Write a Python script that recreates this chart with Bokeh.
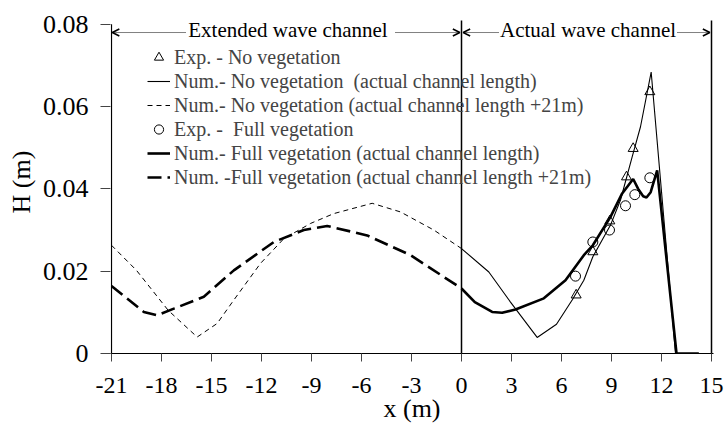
from bokeh.plotting import figure
from bokeh.models import (Range1d, FixedTicker, CustomJSTickFormatter, Legend, LegendItem,
                          Arrow, OpenHead, Label)
from bokeh.embed import file_html
from bokeh.resources import INLINE

FONT = "Liberation Serif"

# Measured wave heights (m) along the channel
exp_noveg_x = [6.88, 7.88, 8.9, 9.9, 10.3, 11.3]
exp_noveg_h = [0.0142, 0.0247, 0.0322, 0.0429, 0.0498, 0.0636]
exp_fullveg_x = [6.84, 7.88, 8.88, 9.84, 10.4, 11.3]
exp_fullveg_h = [0.0188, 0.0271, 0.0300, 0.0359, 0.0386, 0.0427]

# Numerical results, actual channel length
num_noveg_x = [0, 1.64, 2.94, 4.54, 5.7, 6.64, 7.34, 7.88, 8.94, 9.54, 10.24, 10.74, 11.38, 12.84, 14.24]
num_noveg_h = [0.0255, 0.0198, 0.0125, 0.0039, 0.0071, 0.0130, 0.0178, 0.0235, 0.0312, 0.0373, 0.0478, 0.0551, 0.0684, 0.0, 0.0]
num_fullveg_x = [0, 0.8, 1.84, 2.44, 3.24, 4.94, 6.24, 7.34, 7.88, 8.94, 9.64, 10.3, 10.6, 10.9, 11.1, 11.35, 11.74, 12.9, 14.24]
num_fullveg_h = [0.0158, 0.0125, 0.0101, 0.0099, 0.0107, 0.0134, 0.0178, 0.0239, 0.0263, 0.0332, 0.0389, 0.0424, 0.0400, 0.0382, 0.0379, 0.0392, 0.0445, 0.0, 0.0]

# Numerical results, channel extended by 21 m
ext_noveg_x = [-21, -19.5, -17.6, -15.86, -14.66, -13.66, -12.06, -10.66, -9.06, -7.66, -5.36, -3.66, -1.66, 0]
ext_noveg_h = [0.0263, 0.0202, 0.0105, 0.0040, 0.0073, 0.0130, 0.0219, 0.0279, 0.0316, 0.0340, 0.0365, 0.0344, 0.0300, 0.0255]
ext_fullveg_x = [-21, -19.06, -18.26, -17.26, -15.46, -13.66, -11.26, -9.46, -8.06, -5.66, -3.06, 0]
ext_fullveg_h = [0.0164, 0.0101, 0.0093, 0.0109, 0.0138, 0.0202, 0.0271, 0.0300, 0.0310, 0.0287, 0.0239, 0.0158]

x_ticks = [-21, -18, -15, -12, -9, -6, -3, 0, 3, 6, 9, 12, 15]
y_ticks = [0, 0.02, 0.04, 0.06, 0.08]

p = figure(width=724, height=430, output_backend="svg", toolbar_location=None,
           x_range=Range1d(-21.06, 15.12), y_range=Range1d(0, 0.08335),
           min_border_left=110, min_border_right=11, min_border_top=10, min_border_bottom=77)
p.outline_line_color = None
p.xgrid.grid_line_color = None
p.ygrid.grid_line_color = None
p.background_fill_color = "white"

# axes
p.xaxis.ticker = FixedTicker(ticks=x_ticks)
p.yaxis.ticker = FixedTicker(ticks=y_ticks)
p.xaxis.formatter = CustomJSTickFormatter(code="return tick.toString();")
p.yaxis.formatter = CustomJSTickFormatter(code="return tick == 0 ? '0' : tick.toFixed(2);")
for ax in (p.xaxis, p.yaxis):
    ax.minor_tick_line_color = None
    ax.major_tick_in = 0
    ax.major_label_text_font = FONT
    ax.major_label_text_color = "black"
    ax.major_tick_line_color = "#444444"
    ax.axis_line_color = "black"
    ax.axis_label_text_font = FONT
    ax.axis_label_text_font_size = "26px"
    ax.axis_label_text_font_style = "normal"
    ax.axis_label_text_color = "black"
p.xaxis.axis_label = "x (m)"
p.yaxis.axis_label = "H (m)"
p.xaxis.major_tick_out = 8
p.xaxis.major_label_standoff = 16
p.xaxis.major_label_text_font_size = "24px"
p.xaxis.axis_label_standoff = -2
p.yaxis.major_tick_out = 10
p.yaxis.major_label_standoff = 12
p.yaxis.major_label_text_font_size = "26px"
p.yaxis.axis_label_standoff = 4
p.yaxis.axis_line_color = None

# left spine up to 0.08 and section dividers
p.segment(x0=[-21], y0=[0], x1=[-21], y1=[0.08], line_color="black", line_width=1.2)
p.segment(x0=[0, 15], y0=[0, 0], x1=[0, 15], y1=[0.0809, 0.0809], line_color="black", line_width=1.5)

# curves
r_ext_nv = p.line(ext_noveg_x, ext_noveg_h, line_color="black", line_width=1, line_dash="5 4")
r_ext_fv = p.line(ext_fullveg_x, ext_fullveg_h, line_color="black", line_width=2.6, line_dash="14 6")
r_num_nv = p.line(num_noveg_x, num_noveg_h, line_color="black", line_width=1.1)
r_num_fv = p.line(num_fullveg_x, num_fullveg_h, line_color="black", line_width=2.6)
r_exp_nv = p.scatter(exp_noveg_x, exp_noveg_h, marker="triangle", size=10, fill_color=None,
                     line_color="black", line_width=1)
r_exp_fv = p.scatter(exp_fullveg_x, exp_fullveg_h, marker="circle", size=10, fill_color=None,
                     line_color="black", line_width=1)

legend = Legend(items=[
    LegendItem(label="Exp. - No vegetation", renderers=[r_exp_nv]),
    LegendItem(label="Num.- No vegetation  (actual channel length)", renderers=[r_num_nv]),
    LegendItem(label="Num.- No vegetation (actual channel length +21m)", renderers=[r_ext_nv]),
    LegendItem(label="Exp. -  Full vegetation", renderers=[r_exp_fv]),
    LegendItem(label="Num.- Full vegetation (actual channel length)", renderers=[r_num_fv]),
    LegendItem(label="Num. -Full vegetation (actual channel length +21m)", renderers=[r_ext_fv]),
], location=(37, 164), padding=0, margin=0, spacing=0, glyph_width=23, glyph_height=24,
    label_height=24, label_standoff=4, border_line_color=None, background_fill_alpha=0,
    label_text_font=FONT, label_text_font_size="20px")
p.add_layout(legend)

# channel section annotations
arrow_y = 0.0780
for xs, xe in [(-16.56, -20.95), (-3.96, -0.1), (2.22, 0.1), (12.96, 14.9)]:
    p.add_layout(Arrow(end=OpenHead(size=7, line_width=1.5, line_color="black"),
                       x_start=xs, y_start=arrow_y, x_end=xe, y_end=arrow_y,
                       line_color="black", line_width=1, line_dash="1 1"))
for tx, txt in [(-10.41, "Extended wave channel"), (7.59, "Actual wave channel")]:
    p.add_layout(Label(x=tx, y=0.0787, text=txt, text_align="center", text_baseline="alphabetic",
                       text_font=FONT, text_font_size="21px", text_color="black"))

open("out.html", "w").write(file_html(p, INLINE))
